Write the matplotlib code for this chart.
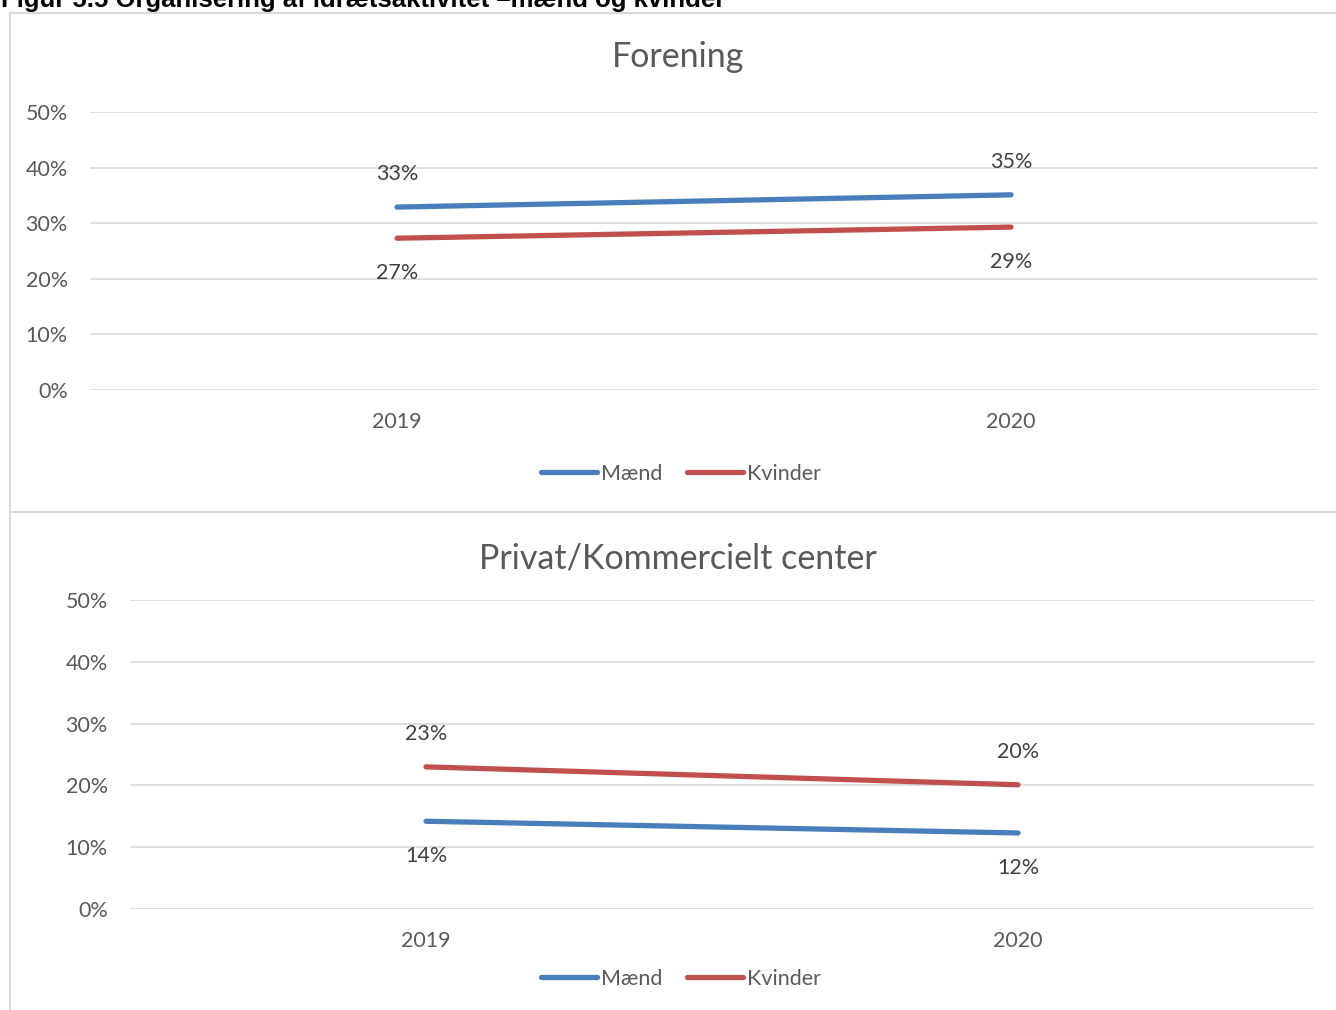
import matplotlib.pyplot as plt
from matplotlib.lines import Line2D

years = ["2019", "2020"]
forening_maend = [0.329, 0.351]
forening_kvinder = [0.273, 0.293]
privat_maend = [0.142, 0.123]
privat_kvinder = [0.230, 0.201]
yticks = [0.0, 0.1, 0.2, 0.3, 0.4, 0.5]
ytick_labels = ["0%", "10%", "20%", "30%", "40%", "50%"]

W, H = 1336, 1010
BLUE = "#4A7EBB"
RED = "#C0504D"
GRID = "#D9D9D9"
TXT = "#595959"
LBL = "#404040"

plt.rcParams["font.family"] = ["Lato", "DejaVu Sans"]


def px_rect(left, top, right, bottom):
    return [left / W, 1 - bottom / H, (right - left) / W, (bottom - top) / H]


def draw_panel(fig, rect, title, title_base, maend, kvinder, legend_y):
    ax = fig.add_axes(rect)
    x = list(range(len(years)))
    ax.plot(x, maend, color=BLUE, lw=3.8, solid_capstyle="round", label="Mænd", zorder=3)
    ax.plot(x, kvinder, color=RED, lw=3.8, solid_capstyle="round", label="Kvinder", zorder=3)

    # labels above the upper line, below the lower line
    for i in x:
        hi, lo = (maend, kvinder) if maend[i] >= kvinder[i] else (kvinder, maend)
        ax.annotate(f"{round(hi[i] * 100):.0f}%", (i, hi[i]), xytext=(0, 33),
                    textcoords="offset pixels", ha="center", va="center",
                    fontsize=15.5, color=LBL)
        ax.annotate(f"{round(lo[i] * 100):.0f}%", (i, lo[i]), xytext=(0, -35),
                    textcoords="offset pixels", ha="center", va="center",
                    fontsize=15.5, color=LBL)

    ax.set_xlim(-0.5, len(years) - 0.5)
    ax.set_ylim(0, 0.5)
    ax.set_yticks(yticks)
    ax.set_yticklabels(ytick_labels)
    ax.set_xticks(x)
    ax.set_xticklabels(years)
    ax.tick_params(axis="y", length=0, pad=16, labelsize=15.5, labelcolor=TXT)
    ax.tick_params(axis="x", length=0, pad=16, labelsize=15.5, labelcolor=TXT)
    ax.grid(axis="y", color=GRID, lw=1.2)
    ax.set_axisbelow(True)
    for s in ax.spines.values():
        s.set_visible(False)

    fig.text(678 / W, 1 - title_base / H, title, ha="center", va="baseline",
             fontsize=24.5, color=TXT)
    ax.legend(loc="center", bbox_to_anchor=(681 / W, 1 - legend_y / H),
              bbox_transform=fig.transFigure, ncol=2, frameon=False,
              fontsize=15.5, labelcolor=TXT, handlelength=2.6,
              handletextpad=0.2, columnspacing=1.15)
    return ax


def main():
    fig = plt.figure(figsize=(W / 100, H / 100), dpi=100)

    # panel borders
    for xs, ys in [((10, W), (13, 13)), ((10, W), (512, 512)), ((10, 10), (13, H))]:
        fig.add_artist(Line2D([v / W for v in xs], [1 - v / H for v in ys],
                              color=GRID, lw=1.5))

    fig.text(1 / W, 1 - 7 / H, "Figur 5.5 Organisering af idrætsaktivitet –mænd og kvinder",
             family="Liberation Sans", weight="bold", fontsize=18.5, va="baseline",
             ha="left", color="black")

    draw_panel(fig, px_rect(90, 112, 1318, 390), "Forening", 67,
               forening_maend, forening_kvinder, 474)
    draw_panel(fig, px_rect(130, 600, 1314, 909), "Privat/Kommercielt center", 568,
               privat_maend, privat_kvinder, 979)

    fig.savefig("out.png", dpi=100)


if __name__ == "__main__":
    main()
